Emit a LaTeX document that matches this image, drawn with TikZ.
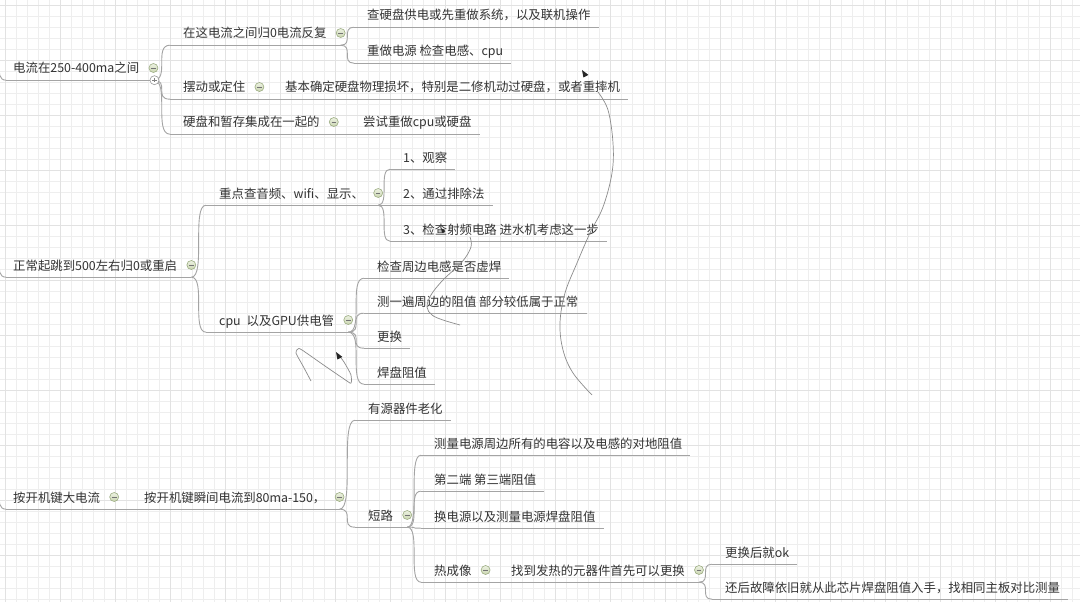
\documentclass[tikz,border=0pt]{standalone}
\usepackage{fontspec}
\newfontfamily\cjk{Noto Sans CJK SC}
\usetikzlibrary{calc}
\definecolor{txt}{HTML}{333333}
\definecolor{ln}{HTML}{A4A4A4}
\definecolor{grd}{HTML}{EEEEEE}
\definecolor{grdm}{HTML}{E2E2E2}
\definecolor{btnf}{HTML}{D2DEB6}
\definecolor{btnd}{HTML}{9CAD82}
\definecolor{scrib}{HTML}{8C8C8C}
\newcommand\tp[4]{%
  \node[topic] (#1) at (#2,#3) {#4};
  \coordinate (#1s) at ($(#1.south west)+(-13,0)$);
  \coordinate (#1e) at ($(#1.south east)+(8,0)$);
  \coordinate (#1j) at ($(#1.south east)+(14,0)$);
  \coordinate (#1b) at ($(#1.east)+(14,0)$);
}
\newcommand\mybranch[2]{\draw[br] (#1) .. controls (#1 -| #2) and (#1 |- #2) .. (#2);}
\begin{document}
\begin{tikzpicture}[x=1pt,y=-1pt,
  topic/.style={anchor=west, font=\cjk\fontsize{12.4}{14}\selectfont, text=txt,
    inner xsep=0pt, inner ysep=7pt, text height=10pt, text depth=0pt},
  uline/.style={draw=ln, line width=0.9pt},
  br/.style={draw=ln, line width=0.9pt},
  btn/.style={circle, minimum size=9pt, inner sep=0pt, draw=btnd, line width=0.6pt,
    top color=btnf!40!white, bottom color=btnf!90!gray,
    path picture={\draw[line width=0.9pt, black!55]
      ($(path picture bounding box.center)+(-2.3,0)$) -- ($(path picture bounding box.center)+(2.3,0)$);}},
  btnplus/.style={circle, minimum size=9pt, inner sep=0pt, draw=black!40, line width=0.6pt, fill=white,
    path picture={\draw[line width=0.8pt, black!50]
      ($(path picture bounding box.center)+(-2.3,0)$) -- ($(path picture bounding box.center)+(2.3,0)$)
      ($(path picture bounding box.center)+(0,-2.3)$) -- ($(path picture bounding box.center)+(0,2.3)$);}},
  scribble/.style={draw=scrib, line width=0.7pt},
  cursor/.style={fill=black!85}
]
\useasboundingbox (0,0) rectangle (1080,602);
\clip (0,0) rectangle (1080,602);
\fill[white] (0,0) rectangle (1080,602);
\foreach \k in {0,...,98}{\draw[grd, line width=0.7pt] (\k*11+5.5,0) -- (\k*11+5.5,602);}
\foreach \k in {0,...,54}{\draw[grd, line width=0.7pt] (0,\k*11+5.5) -- (1080,\k*11+5.5);}
\foreach \k in {0,...,19}{\draw[grdm, line width=0.7pt] (\k*55+5.5,0) -- (\k*55+5.5,602);}
\foreach \k in {0,...,10}{\draw[grdm, line width=0.7pt] (0,\k*55+5.5) -- (1080,\k*55+5.5);}

% ---------- topics ----------
\tp{r1}{13}{68}{电流在250-400ma之间}
\coordinate (r1s) at ($(r1.south west)+(-7,0)$);
\tp{A}{183}{33}{在这电流之间归0电流反复}
\tp{A1}{367}{15}{查硬盘供电或先重做系统，以及联机操作}
\tp{A2}{367}{51}{重做电源 检查电感、cpu}
\tp{B}{183}{87}{摆动或定住}
\tp{B1}{285}{87}{基本确定硬盘物理损坏，特别是二修机动过硬盘，或者重摔机}
\tp{C}{183}{122}{硬盘和暂存集成在一起的}
\tp{C1}{363}{122}{尝试重做cpu或硬盘}

\tp{r2}{13}{265}{正常起跳到500左右归0或重启}
\coordinate (r2s) at ($(r2.south west)+(-7,0)$);
\tp{D}{219}{193}{重点查音频、wifi、显示、}
\tp{D1}{403}{157}{1、观察}
\tp{D2}{403}{193}{2、通过排除法}
\tp{D3}{403}{229}{3、检查射频电路 进水机考虑这一步}
\tp{E}{219}{320}{cpu\hspace{6pt}以及GPU供电管}
\tp{E1}{377}{266}{检查周边电感是否虚焊}
\tp{E2}{377}{301}{测一遍周边的阻值 部分较低属于正常}
\tp{E3}{377}{336}{更换}
\tp{E4}{377}{372}{焊盘阻值}

\tp{r3}{13}{497}{按开机键大电流}
\coordinate (r3s) at ($(r3.south west)+(-7,0)$);
\tp{F}{144}{497}{按开机键瞬间电流到80ma-150，}
\tp{G}{368}{408}{有源器件老化}
\tp{H}{368}{515}{短路}
\tp{H1}{434}{443}{测量电源周边所有的电容以及电感的对地阻值}
\tp{H2}{434}{479}{第二端 第三端阻值}
\tp{H3}{434}{516}{换电源以及测量电源焊盘阻值}
\tp{H4}{434}{570}{热成像}
\tp{I}{511}{570}{找到发热的元器件首先可以更换}
\tp{I1}{725}{552}{更换后就ok}
\tp{I2}{725}{587}{还后故障依旧就从此芯片焊盘阻值入手，找相同主板对比测量}

% incoming curves of the roots (from off-picture centre)
\coordinate (r1in) at ($(r1s)+(-14,-30)$);
\coordinate (r2in) at ($(r2s)+(-14,-30)$);
\coordinate (r3in) at ($(r3s)+(-14,-30)$);
\mybranch{r1in}{r1s}
\mybranch{r2in}{r2s}
\mybranch{r3in}{r3s}

% ---------- underlines ----------
\foreach \n in {r1,A,B,C,r2,D,E,r3,F,H,H4,I}{\draw[uline] (\n s) -- (\n j);}
\foreach \n in {A1,A2,B1,C1,D1,D2,D3,E1,E2,E3,E4,G,H1,H2,H3,I1,I2}{\draw[uline] (\n s) -- (\n e);}

% ---------- branches ----------
\mybranch{r1j}{As}
\mybranch{r1j}{Bs}
\mybranch{r1j}{Cs}
\mybranch{Aj}{A1s}
\mybranch{Aj}{A2s}
\mybranch{Bj}{B1s}
\mybranch{Cj}{C1s}
\mybranch{r2j}{Ds}
\mybranch{r2j}{Es}
\mybranch{Dj}{D1s}
\mybranch{Dj}{D2s}
\mybranch{Dj}{D3s}
\mybranch{Ej}{E1s}
\mybranch{Ej}{E2s}
\mybranch{Ej}{E3s}
\mybranch{Ej}{E4s}
\mybranch{r3j}{Fs}
\mybranch{Fj}{Gs}
\mybranch{Fj}{Hs}
\mybranch{Hj}{H1s}
\mybranch{Hj}{H2s}
\mybranch{Hj}{H3s}
\mybranch{Hj}{H4s}
\mybranch{H4j}{Is}
\mybranch{Ij}{I1s}
\mybranch{Ij}{I2s}

% ---------- collapse buttons ----------
\foreach \n in {r1,A,B,C,r2,D,E,r3,F,H,H4,I}{\node[btn] (\n btn) at (\n b) {};}
\node[btnplus] (r1plus) at ($(r1j)+(1,0)$) {};

% ---------- hand-drawn marks ----------
\draw[scribble] plot[smooth, tension=0.6] coordinates {(598,92) (608,110) (613,143) (612,173) (603,207) (590,233) (577,263) (565,293) (560,323) (563,350) (573,373) (592,395)};
\draw[scribble] plot[smooth, tension=0.6] coordinates {(470,237) (471,247) (462,262) (443,280) (431,295) (427,307) (432,315) (443,320) (460,325)};
\draw[scribble] plot[smooth, tension=0.5] coordinates {(311,381) (303,366) (296,353) (298,349) (302,350) (325,366) (347,381) (351,383) (351,375) (344,362) (341,358)};
\fill[cursor] (582,70) -- ++(1.4,7.5) -- ++(5,-2.6) -- cycle;
\fill[cursor] (336,352) -- ++(1.4,7.5) -- ++(5,-2.6) -- cycle;
\fill[cursor] (441,228) -- ++(1,5) -- ++(3.5,-1.8) -- cycle;
\end{tikzpicture}
\end{document}
